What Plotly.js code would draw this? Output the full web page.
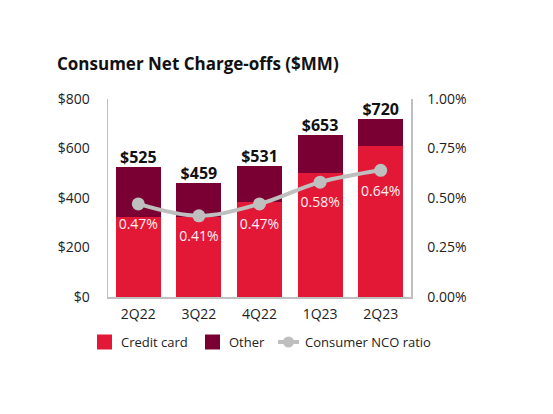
<!DOCTYPE html>
<html>
<head>
<meta charset="utf-8">
<script src="https://cdn.plot.ly/plotly-3.0.1.min.js"></script>
<style>html,body{margin:0;padding:0;background:#fff;}#chart{width:553px;height:414px;}</style>
</head>
<body>
<div id="chart"></div>
<script>
const quarters = ["2Q22", "3Q22", "4Q22", "1Q23", "2Q23"];
const creditCard = [324, 324, 385, 502, 611];
const totals = [525, 459, 531, 653, 720];
const other = totals.map((t, i) => t - creditCard[i]);
const ncoRatio = [0.47, 0.41, 0.47, 0.58, 0.64];
const totalLabels = ["$525", "$459", "$531", "$653", "$720"];
const ratioLabels = ["0.47%", "0.41%", "0.47%", "0.58%", "0.64%"];
const legendNames = ["Credit card", "Other", "Consumer NCO ratio"];

const RED = "#E31837", DARK = "#7A0033", GRAY = "#BFBFBF";
const FONT = "Open Sans, sans-serif";

// plot area in pixels
const L = 108, R = 411, T = 99, B = 297;
const px = x => (x - L) / (R - L);
const py = y => (B - y) / (B - T);

const traces = [
  {type: "bar", x: quarters, y: creditCard, name: legendNames[0], marker: {color: RED}, hoverinfo: "y"},
  {type: "bar", x: quarters, y: other, name: legendNames[1], marker: {color: DARK}, hoverinfo: "y"},
  {type: "scatter", mode: "text", x: quarters, y: totals, text: totalLabels, textposition: "top center",
   textfont: {family: FONT, size: 16, color: "#111", weight: 700}, showlegend: false, hoverinfo: "skip", cliponaxis: false},
  {type: "scatter", mode: "lines+markers", x: quarters, y: ncoRatio, yaxis: "y2", name: legendNames[2],
   line: {color: GRAY, width: 4, shape: "spline"}, marker: {color: GRAY, size: 13}, cliponaxis: false},
  {type: "scatter", mode: "markers+text", x: quarters, y: ncoRatio, yaxis: "y2", showlegend: false, hoverinfo: "skip",
   marker: {color: "rgba(0,0,0,0)", size: 22}, text: ratioLabels, textposition: "bottom center",
   textfont: {family: FONT, size: 14, color: "#FFF1F3"}, cliponaxis: false}
];

const ly = 342;
const shapes = [
  {type: "rect", xref: "paper", yref: "paper", x0: px(97), x1: px(112), y0: py(ly - 7.5), y1: py(ly + 7.5), fillcolor: RED, line: {width: 0}},
  {type: "rect", xref: "paper", yref: "paper", x0: px(205), x1: px(220), y0: py(ly - 7.5), y1: py(ly + 7.5), fillcolor: DARK, line: {width: 0}},
  {type: "line", xref: "paper", yref: "paper", x0: px(278), x1: px(299), y0: py(ly), y1: py(ly), line: {color: GRAY, width: 4}},
  {type: "circle", xref: "paper", yref: "paper", x0: px(283), x1: px(294), y0: py(ly - 5.5), y1: py(ly + 5.5), fillcolor: GRAY, line: {width: 0}}
];
const legX = [119, 227, 303];
const annotations = legendNames.map((n, i) => ({
  xref: "paper", yref: "paper", x: px(legX[i]), y: py(ly), xanchor: "left", yanchor: "middle",
  text: n, showarrow: false, font: {family: FONT, size: 13, color: "#222"}
}));

const layout = {
  width: 553, height: 414,
  margin: {l: L, r: 553 - R, t: T, b: 414 - B, pad: 0},
  paper_bgcolor: "#fff", plot_bgcolor: "#fff",
  barmode: "stack", bargap: 0.26,
  showlegend: false,
  font: {family: FONT, size: 14, color: "#222"},
  title: {text: "<b>Consumer Net Charge-offs ($MM)</b>", x: 57 / 553, xanchor: "left", xref: "container",
          y: 1 - 64 / 414, yanchor: "middle", yref: "container", font: {family: FONT, size: 17, color: "#111"}},
  xaxis: {type: "category", showline: true, linecolor: GRAY, linewidth: 1.5, showgrid: false, ticks: "",
          tickfont: {family: FONT, size: 14, color: "#222"}, ticklabelstandoff: 4, zeroline: false},
  yaxis: {range: [0, 800], dtick: 200, tickprefix: "$", showline: true, linecolor: GRAY, linewidth: 1.5,
          showgrid: false, zeroline: false, ticks: "", tickfont: {family: FONT, size: 14, color: "#222"}, ticklabelstandoff: 14},
  yaxis2: {overlaying: "y", side: "right", range: [0, 1], dtick: 0.25, tickformat: ".2f", ticksuffix: "%",
           showline: true, linecolor: GRAY, linewidth: 1.5, showgrid: false, zeroline: false, ticks: "",
           tickfont: {family: FONT, size: 14, color: "#222"}, ticklabelstandoff: 12},
  shapes: shapes,
  annotations: annotations
};

Plotly.newPlot("chart", traces, layout, {displayModeBar: false, staticPlot: true});
</script>
</body>
</html>
